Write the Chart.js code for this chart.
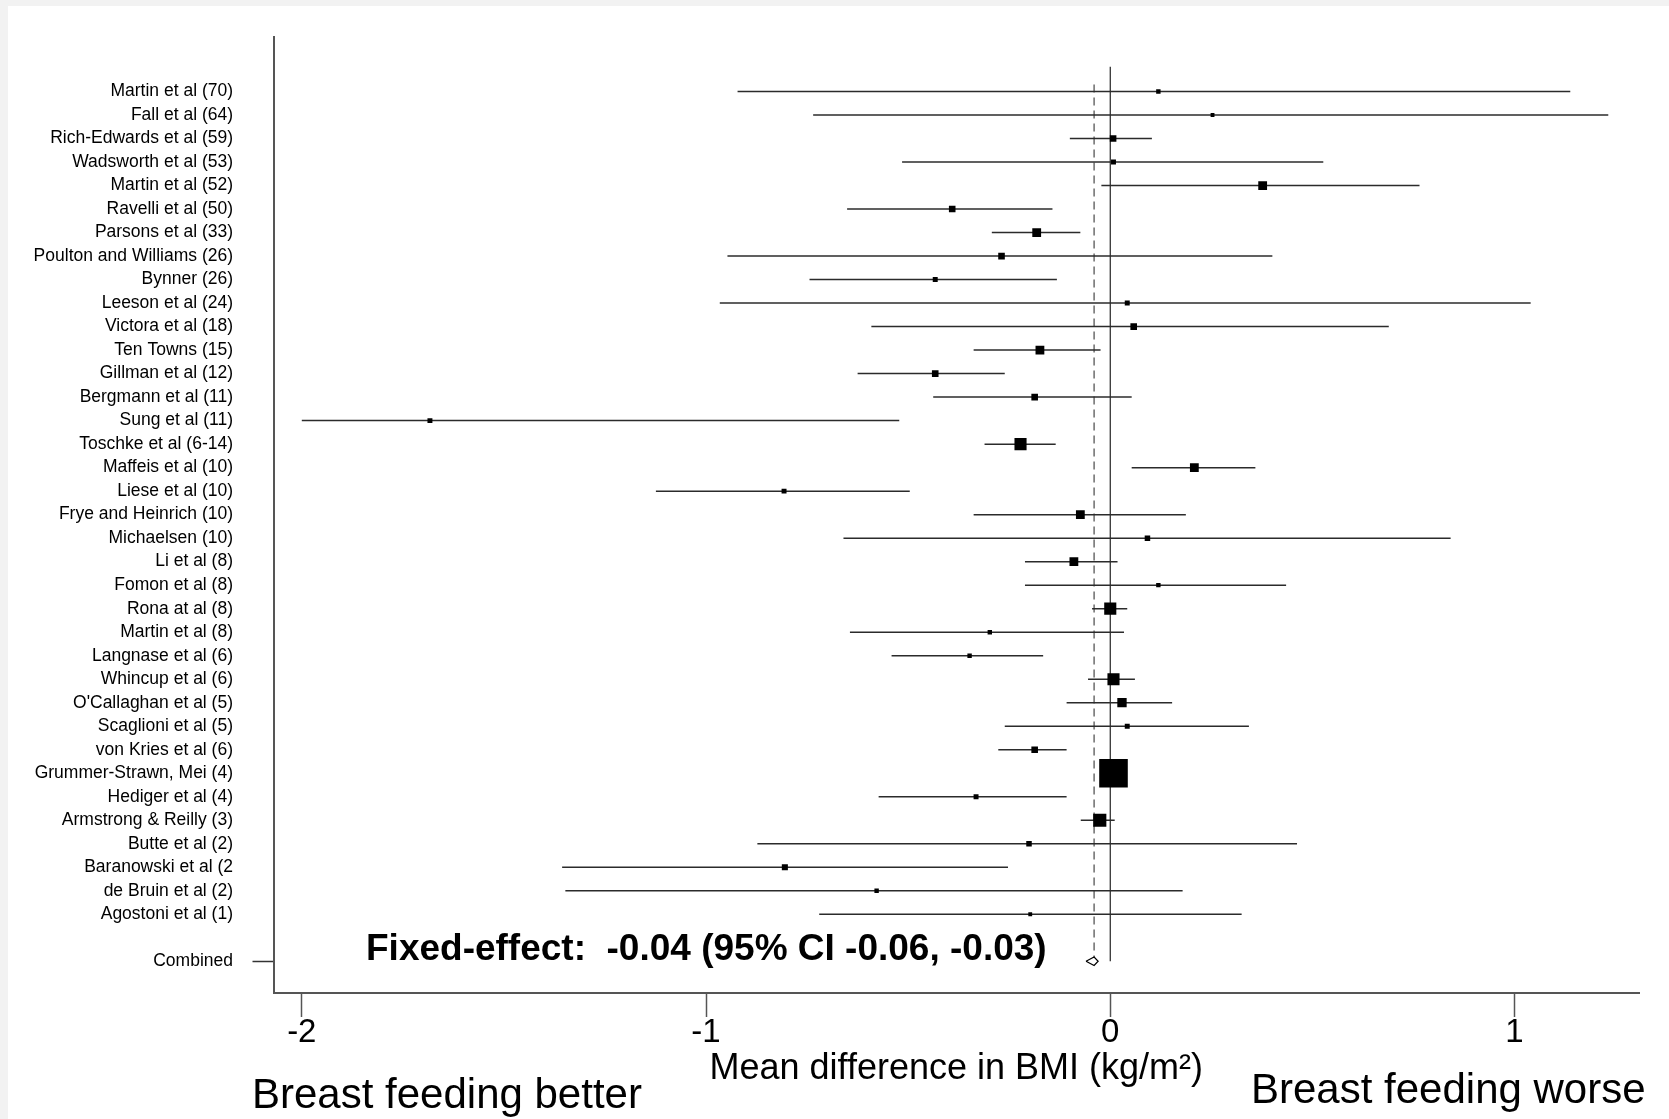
<!DOCTYPE html>
<html>
<head>
<meta charset="utf-8">
<title>Breast feeding and BMI - forest plot</title>
<script src="https://cdn.jsdelivr.net/npm/chart.js@4.4.1/dist/chart.umd.min.js"></script>
<style>
  html, body { margin: 0; padding: 0; background: #f2f2f2; }
  canvas { display: block; }
</style>
</head>
<body>
<canvas id="forest" width="1669" height="1119"></canvas>
<script>
// studies top to bottom (kg/m2)
const studies = [
  'Martin et al (70)', 'Fall et al (64)', 'Rich-Edwards et al (59)', 'Wadsworth et al (53)',
  'Martin et al (52)', 'Ravelli et al (50)', 'Parsons et al (33)', 'Poulton and Williams (26)',
  'Bynner (26)', 'Leeson et al (24)', 'Victora et al (18)', 'Ten Towns (15)',
  'Gillman et al (12)', 'Bergmann et al (11)', 'Sung et al (11)', 'Toschke et al (6-14)',
  'Maffeis et al (10)', 'Liese et al (10)', 'Frye and Heinrich (10)', 'Michaelsen (10)',
  'Li et al (8)', 'Fomon et al (8)', 'Rona at al (8)', 'Martin et al (8)',
  'Langnase et al (6)', 'Whincup et al (6)', "O'Callaghan et al (5)", 'Scaglioni et al (5)',
  'von Kries et al (6)', 'Grummer-Strawn, Mei (4)', 'Hediger et al (4)', 'Armstrong & Reilly (3)',
  'Butte et al (2)', 'Baranowski et al (2', 'de Bruin et al (2)', 'Agostoni et al (1)'
];
const estimates = [
  0.119, 0.253, 0.007, 0.008, 0.377, -0.391, -0.182, -0.269,
  -0.433, 0.042, 0.058, -0.174, -0.433, -0.187, -1.683, -0.222,
  0.208, -0.807, -0.074, 0.092, -0.090, 0.119, 0.000, -0.298,
  -0.348, 0.008, 0.029, 0.042, -0.187, 0.008, -0.332, -0.026,
  -0.201, -0.805, -0.578, -0.198
];
const lowerCI = [
  -0.922, -0.735, -0.100, -0.515, -0.022, -0.651, -0.293, -0.947,
  -0.744, -0.966, -0.591, -0.338, -0.625, -0.438, -2.000, -0.311,
  0.053, -1.124, -0.338, -0.660, -0.211, -0.211, -0.045, -0.644,
  -0.541, -0.055, -0.108, -0.261, -0.277, -0.020, -0.573, -0.073,
  -0.873, -1.356, -1.348, -0.720
];
const upperCI = [
  1.138, 1.232, 0.103, 0.527, 0.765, -0.143, -0.074, 0.401,
  -0.132, 1.040, 0.689, -0.024, -0.261, 0.053, -0.522, -0.135,
  0.359, -0.496, 0.187, 0.842, 0.018, 0.435, 0.042, 0.034,
  -0.166, 0.061, 0.153, 0.343, -0.108, 0.030, -0.108, 0.011,
  0.462, -0.253, 0.179, 0.325
];
// relative study weight (drawn as square size)
const weights = [
  4, 3.5, 6, 4.5, 8, 6, 8, 6,
  4.5, 4.5, 6, 8, 6, 6, 4.5, 11,
  8, 4.5, 8, 5, 8, 4, 11, 4,
  4, 11, 8.5, 4.5, 6, 26, 4.5, 12,
  5, 5.5, 4, 3.5
];
const combinedLabel = 'Combined';
const combinedEst = -0.04;
const combinedCI = [-0.06, -0.03];
const xTicks = [-2, -1, 0, 1];

const combinedRow = studies.length + 1;
const rowTicks = studies.map((s, i) => i).concat([combinedRow]);
const fontFamily = '"Liberation Sans", Arial, Helvetica, sans-serif';
Chart.defaults.font.family = fontFamily;

const ciLines = studies.map((s, i) => ({
  data: [{ x: lowerCI[i], y: i }, { x: upperCI[i], y: i }],
  showLine: true,
  borderColor: '#2b2b2b',
  borderWidth: 1.5,
  pointRadius: 0,
  order: 2
}));

const squares = {
  data: estimates.map((v, i) => ({ x: v, y: i })),
  pointStyle: 'rect',
  pointRadius: weights.map(w => w * 1.1 * Math.SQRT1_2),
  backgroundColor: '#000',
  borderWidth: 0,
  order: 0
};

const zeroLine = {
  data: [{ x: 0, y: -1.05 }, { x: 0, y: combinedRow }],
  showLine: true, borderColor: '#222', borderWidth: 1.2, pointRadius: 0, order: 3
};
const pooledLine = {
  data: [{ x: combinedEst, y: -0.3 }, { x: combinedEst, y: combinedRow - 0.18 }],
  showLine: true, borderColor: '#555', borderWidth: 1.3, borderDash: [8, 5], pointRadius: 0, order: 3
};
const diamond = {
  data: [
    { x: combinedCI[0], y: combinedRow },
    { x: combinedEst, y: combinedRow - 0.18 },
    { x: combinedCI[1], y: combinedRow },
    { x: combinedEst, y: combinedRow + 0.18 },
    { x: combinedCI[0], y: combinedRow }
  ],
  showLine: true, borderColor: '#000', borderWidth: 1.2, pointRadius: 0, order: 1
};

const background = {
  id: 'background',
  beforeDraw(chart) {
    const ctx = chart.ctx;
    ctx.save();
    ctx.fillStyle = '#f2f2f2';
    ctx.fillRect(0, 0, chart.width, chart.height);
    ctx.fillStyle = '#ffffff';
    ctx.fillRect(8, 6, chart.width - 8, chart.height - 6);
    ctx.restore();
  }
};

const fmt = v => v.toFixed(2);
const notes = {
  id: 'notes',
  afterDraw(chart) {
    const ctx = chart.ctx;
    const yPix = chart.scales.y.getPixelForValue(combinedRow);
    ctx.save();
    ctx.fillStyle = '#000';
    ctx.textAlign = 'left';
    ctx.textBaseline = 'middle';
    ctx.font = 'bold 37px ' + fontFamily;
    ctx.fillText('Fixed-effect:  ' + fmt(combinedEst) + ' (95% CI ' + fmt(combinedCI[0]) + ', ' + fmt(combinedCI[1]) + ')', 366, yPix - 11);
    ctx.font = '42px ' + fontFamily;
    ctx.fillText('Breast feeding better', 252, 1096);
    ctx.fillText('Breast feeding worse', 1251, 1091);
    ctx.restore();
  }
};

new Chart(document.getElementById('forest'), {
  type: 'scatter',
  data: { datasets: [squares, diamond].concat(ciLines, [zeroLine, pooledLine]) },
  options: {
    responsive: false,
    animation: false,
    devicePixelRatio: 1,
    layout: { padding: { left: 8, top: 37, right: 30, bottom: 0 } },
    plugins: { legend: { display: false }, tooltip: { enabled: false } },
    scales: {
      x: {
        type: 'linear',
        min: -2.07,
        max: 1.308,
        afterBuildTicks: s => { s.ticks = xTicks.map(v => ({ value: v })); },
        afterFit: s => { s.height = 126; },
        grid: { drawOnChartArea: false, drawTicks: true, tickLength: 24, tickColor: '#555', tickWidth: 1.5 },
        border: { display: true, color: '#555', width: 2 },
        ticks: { color: '#000', font: { size: 33 }, padding: -4, maxRotation: 0, autoSkip: false, callback: v => String(v) },
        title: {
          display: true,
          text: 'Mean difference in BMI (kg/m²)',
          color: '#000',
          font: { size: 36 },
          padding: { top: 0, bottom: 28 }
        }
      },
      y: {
        type: 'linear',
        reverse: true,
        min: -2.32,
        max: 38.35,
        afterBuildTicks: s => { s.ticks = rowTicks.map(v => ({ value: v })); },
        afterFit: s => { s.width = 265.5; },
        grid: {
          drawOnChartArea: false,
          tickLength: 21,
          tickWidth: 1.5,
          tickColor: c => (c.tick && c.tick.value === combinedRow) ? '#333' : 'rgba(0,0,0,0)'
        },
        border: { display: true, color: '#555', width: 2 },
        ticks: {
          color: '#000',
          font: { size: 17.5 },
          padding: 19.5,
          autoSkip: false,
          callback: v => v === combinedRow ? combinedLabel : studies[v]
        }
      }
    }
  },
  plugins: [background, notes]
});
</script>
</body>
</html>
